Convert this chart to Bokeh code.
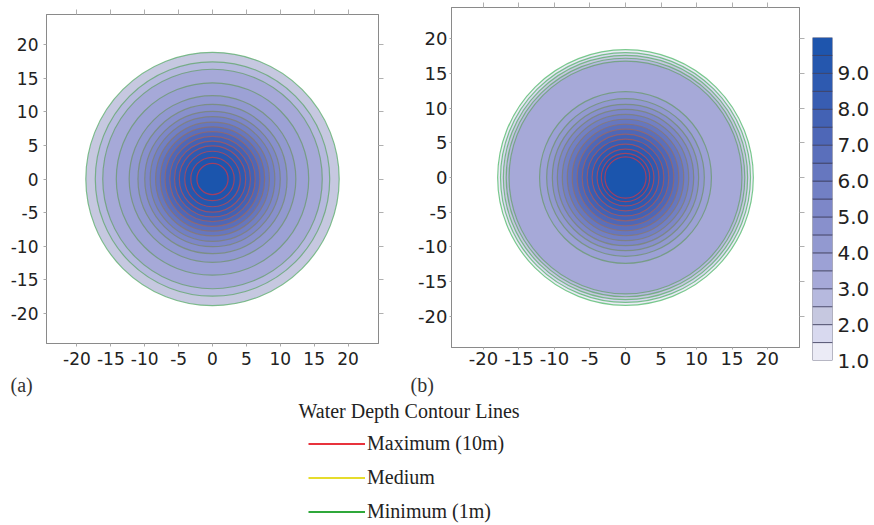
from bokeh.plotting import figure
from bokeh.models import (Range1d, LinearAxis, FixedTicker, Label, Legend,
                          LegendItem, PrintfTickFormatter, ColumnDataSource,
                          CustomJSTickFormatter)
from bokeh.layouts import row, column
from bokeh.embed import file_html
from bokeh.resources import INLINE

# ---------------- data ----------------
LEVELS = [1.0, 1.5, 2.0, 2.5, 3.0, 3.5, 4.0, 4.5, 5.0, 5.5,
          6.0, 6.5, 7.0, 7.5, 8.0, 8.5, 9.0, 9.5, 10.0]

# panel (a): radius (m) at which each water-depth level is reached
LEVELS_A = [2.0, 2.5, 3.0, 3.5, 4.0, 4.5, 5.0, 5.5, 6.0, 6.5,
            7.0, 7.5, 8.0, 8.5, 9.0, 9.5, 10.0]
RADII_A = [18.7, 17.3, 16.2, 14.2, 12.3, 11.0, 10.0, 9.2, 8.4, 7.7,
           7.0, 6.3, 5.6, 4.9, 4.1, 3.2, 2.3]

# panel (b)
LEVELS_B = [1.0, 1.5, 2.0, 2.5, 3.0, 3.5, 4.0, 4.5, 5.0, 5.5,
            6.0, 6.5, 7.0, 7.5, 8.0, 8.5, 9.0, 9.5, 10.0]
RADII_B = [18.0, 17.6, 17.2, 16.8, 16.4, 12.1, 11.1, 10.3, 9.6, 8.9,
           8.2, 7.5, 6.8, 6.1, 5.4, 4.7, 4.0, 3.4, 2.9]

CENTER_X = [0.0]
CENTER_Y = [0.0]

AXIS_TICKS = [-20, -15, -10, -5, 0, 5, 10, 15, 20]
CBAR_TICKS = [1.0, 2.0, 3.0, 4.0, 5.0, 6.0, 7.0, 8.0, 9.0]

PANEL_TAGS = ["(a)", "(b)"]
LEGEND_LABELS = ["Maximum (10m)", "Medium", "Minimum (1m)"]

# ---------------- style ----------------
BAND_COLORS = ["#ebebf6", "#d8d9ef", "#c6c8e0", "#b6b9de", "#a6a9d8",
               "#9ca1d5", "#9299d0", "#8890cc", "#7d87c8", "#7280c4",
               "#6677bf", "#5a6fbb", "#4e67b7", "#4362b4", "#385db2",
               "#2e5ab0", "#2557ae", "#1e55ad", "#1b55ad"]
LEGEND_COLORS = ["#e8323c", "#e6dc2c", "#2fa83a"]


def hex2rgb(h):
    return tuple(int(h[i:i + 2], 16) for i in (1, 3, 5))


def mix(c1, c2, t):
    a, b = hex2rgb(c1), hex2rgb(c2)
    return "#%02x%02x%02x" % tuple(int(round(a[k] + (b[k] - a[k]) * t)) for k in range(3))


def line_color(level):
    t = (level - 1.0) / 9.0
    g, y, r = "#4fb868", "#808070", "#d03848"
    if t < 0.5:
        return mix(g, y, t / 0.5)
    return mix(y, r, (t - 0.5) / 0.5)


SANS = "DejaVu Sans"
SERIF = "Liberation Serif"
ROW_H = 372


def panel(width, left, right, top, bottom, fs, tick_out, standoff, levels, radii):
    p = figure(width=width, height=ROW_H, output_backend="svg", toolbar_location=None,
               x_range=Range1d(-24.5, 24.5), y_range=Range1d(-24.5, 24.5),
               min_border_left=left, min_border_right=right,
               min_border_top=top, min_border_bottom=bottom)
    p.grid.visible = False
    p.outline_line_color = "#8a8a8a"
    p.background_fill_color = "white"
    p.border_fill_color = "white"
    for ax in (p.xaxis[0], p.yaxis[0]):
        ax.ticker = FixedTicker(ticks=AXIS_TICKS)
        ax.formatter = PrintfTickFormatter(format="%d")
        ax.major_label_text_font = SANS
        ax.major_label_text_font_size = fs
        ax.major_label_text_color = "#222222"
        ax.major_tick_out = tick_out
        ax.major_tick_in = 0
        ax.major_tick_line_color = "#aaaaaa"
        ax.minor_tick_line_color = None
        ax.axis_line_color = "#8a8a8a"
        ax.major_label_standoff = standoff
    for loc in ("above", "right"):
        ax = LinearAxis(ticker=FixedTicker(ticks=AXIS_TICKS),
                        formatter=CustomJSTickFormatter(code="return ''"),
                        major_label_standoff=0,
                        major_tick_out=5, major_tick_in=0,
                        major_tick_line_color="#b0b0b0", minor_tick_line_color=None,
                        axis_line_color="#8a8a8a")
        p.add_layout(ax, loc)

    fills = [BAND_COLORS[LEVELS.index(lv)] for lv in levels]
    lines = [line_color(lv) for lv in levels]
    src = ColumnDataSource(dict(x=CENTER_X * len(radii), y=CENTER_Y * len(radii),
                                r=radii, fill=fills, line=lines))
    p.circle(x="x", y="y", radius="r", source=src, fill_color="fill",
             line_color=None)
    p.circle(x="x", y="y", radius="r", source=src, fill_color=None,
             line_color="line", line_alpha=0.75, line_width=1.2)
    return p


pa = panel(400, 46, 22, 14, 29, "17px", 3, 5, LEVELS_A, RADII_A)
pb = panel(405, 51, 6, 7, 25, "18px", 2, 2, LEVELS_B, RADII_B)

# ---------------- colour bar ----------------
pc = figure(width=69, height=ROW_H, output_backend="svg", toolbar_location=None,
            x_range=Range1d(0, 1), y_range=Range1d(1.0, 10.0),
            y_axis_location="right",
            min_border_left=7, min_border_right=42, min_border_top=37, min_border_bottom=12)
pc.grid.visible = False
pc.xaxis.visible = False
pc.outline_line_color = None
pc.quad(left=0, right=1, bottom=LEVELS[:-1], top=LEVELS[1:],
        fill_color=BAND_COLORS[:len(LEVELS) - 1], line_color="#3a3a5a",
        line_alpha=0.7, line_width=1)
cy = pc.yaxis[0]
cy.ticker = FixedTicker(ticks=CBAR_TICKS)
cy.formatter = PrintfTickFormatter(format="%.1f")
cy.major_label_text_font = SANS
cy.major_label_text_font_size = "20px"
cy.major_label_text_color = "#222222"
cy.major_tick_out = 0
cy.major_tick_in = 0
cy.minor_tick_line_color = None
cy.axis_line_color = None
cy.major_label_standoff = 5

# ---------------- legend ----------------
LEG_H = 525 - ROW_H
pl = figure(width=874, height=LEG_H, output_backend="svg", toolbar_location=None,
            x_range=Range1d(0, 1), y_range=Range1d(0, 1),
            min_border=0, min_border_left=0, min_border_right=0,
            min_border_top=0, min_border_bottom=0)
pl.axis.visible = False
pl.grid.visible = False
pl.outline_line_color = None
items = []
for lab, col in zip(LEGEND_LABELS, LEGEND_COLORS):
    r = pl.line(x=[float("nan")], y=[float("nan")], line_color=col, line_width=2)
    items.append(LegendItem(label=lab, renderers=[r]))
leg = Legend(items=items, location=(308, 2), padding=0, margin=0,
             border_line_color=None, background_fill_alpha=0,
             glyph_width=57, glyph_height=23, label_height=23, spacing=11,
             label_standoff=2, label_text_font=SERIF, label_text_font_size="20px",
             label_text_color="#222222")
pl.add_layout(leg, "center")
pl.add_layout(Label(x=298, y=115, x_units="screen", y_units="screen",
                    text="Water Depth Contour Lines", text_font=SERIF,
                    text_font_size="20px", text_color="#222222",
                    text_baseline="middle"))
# panel tags (annotations outside a frame are clipped, so they sit here)
for tag, tx in zip(PANEL_TAGS, [10, 410]):
    pl.add_layout(Label(x=tx, y=LEG_H - 1, x_units="screen", y_units="screen",
                        text=tag, text_font=SERIF, text_font_size="20px",
                        text_color="#333333", text_baseline="top"))

layout = column(row(column(pa), column(pb), column(pc)), pl)
open("out.html", "w").write(file_html(layout, INLINE))
